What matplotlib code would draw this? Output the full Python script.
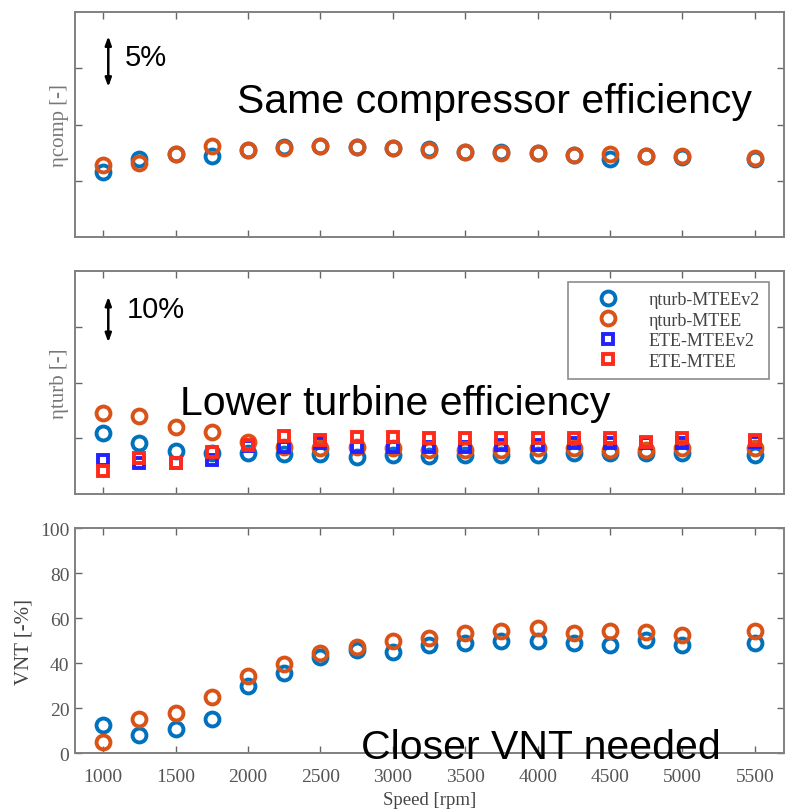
import numpy as np
import matplotlib.pyplot as plt

# engine speed points
speed = [1000, 1250, 1500, 1750, 2000, 2250, 2500, 2750, 3000, 3250,
         3500, 3750, 4000, 4250, 4500, 4750, 5000, 5500]

# compressor efficiency
comp_v2 = [0.658, 0.669, 0.674, 0.672, 0.677, 0.680, 0.681, 0.680, 0.679,
           0.678, 0.676, 0.676, 0.675, 0.673, 0.669, 0.672, 0.671, 0.669]
comp_mtee = [0.664, 0.666, 0.674, 0.681, 0.677, 0.679, 0.681, 0.680, 0.679,
             0.677, 0.676, 0.675, 0.675, 0.673, 0.674, 0.672, 0.672, 0.670]

# turbine efficiency
turb_v2 = [0.409, 0.391, 0.378, 0.373, 0.373, 0.372, 0.372, 0.367, 0.370,
           0.368, 0.370, 0.370, 0.370, 0.373, 0.374, 0.373, 0.373, 0.370]
turb_mtee = [0.445, 0.440, 0.421, 0.411, 0.394, 0.385, 0.382, 0.385, 0.382,
             0.379, 0.379, 0.379, 0.382, 0.382, 0.379, 0.379, 0.382, 0.382]
ete_v2 = [0.361, 0.355, 0.355, 0.361, 0.386, 0.385, 0.392, 0.385, 0.385,
          0.384, 0.385, 0.387, 0.388, 0.391, 0.391, 0.391, 0.392, 0.394]
ete_mtee = [0.342, 0.364, 0.355, 0.376, 0.388, 0.404, 0.397, 0.403, 0.403,
            0.401, 0.401, 0.401, 0.401, 0.401, 0.401, 0.394, 0.400, 0.397]

# VNT position
vnt_v2 = [12.3, 7.9, 10.8, 15.0, 29.7, 35.4, 42.5, 45.8, 44.7, 48.0,
          48.7, 49.9, 49.9, 48.7, 48.0, 50.2, 48.0, 48.7]
vnt_mtee = [4.9, 15.0, 18.0, 25.0, 34.2, 39.5, 44.3, 47.3, 49.8, 51.3,
            53.2, 54.2, 55.4, 53.2, 54.4, 53.9, 52.4, 54.2]

xticks = [1000, 1500, 2000, 2500, 3000, 3500, 4000, 4500, 5000, 5500]

blue = '#0072BD'
orange = '#D95319'
serif = ['Liberation Serif', 'DejaVu Serif']
sans = ['Liberation Sans', 'DejaVu Sans']
grey = '#555555'

fig = plt.figure(figsize=(7.85, 8.12), dpi=100)
ax1 = fig.add_axes([0.0955, 0.7069, 0.903, 0.277])
ax2 = fig.add_axes([0.0955, 0.3904, 0.903, 0.2746])
ax3 = fig.add_axes([0.0955, 0.0714, 0.903, 0.277])

circ = dict(linestyle='none', marker='o', markersize=10, markerfacecolor='none',
            markeredgewidth=2.8)
sq = dict(linestyle='none', marker='s', markersize=6.5, markerfacecolor='none',
          markeredgewidth=2.8)

ax1.plot(speed, comp_v2, color=blue, **circ)
ax1.plot(speed, comp_mtee, color=orange, **circ)
ax1.set_ylim(0.6, 0.8)
ax1.set_yticks([0.65, 0.70, 0.75])

ax2.plot(speed, turb_v2, color=blue, label='ηturb-MTEEv2', **circ)
ax2.plot(speed, turb_mtee, color=orange, label='ηturb-MTEE', **circ)
ax2.plot(speed, ete_v2, color='#2222FF', label='ETE-MTEEv2', **sq)
ax2.plot(speed, ete_mtee, color='#FF2A1A', label='ETE-MTEE', **sq)
ax2.set_ylim(0.3, 0.7)
ax2.set_yticks([0.4, 0.5, 0.6])

ax3.plot(speed, vnt_v2, color=blue, **circ)
ax3.plot(speed, vnt_mtee, color=orange, **circ)
ax3.set_ylim(0, 100)
ax3.set_yticks([0, 20, 40, 60, 80, 100])

for ax in (ax1, ax2, ax3):
    ax.set_xlim(805, 5700)
    ax.set_xticks(xticks)
    ax.tick_params(direction='in', top=True, right=True, length=5, width=1,
                   colors='#666666', labelcolor=grey, labelsize=14)
    ax.tick_params(axis='x', pad=10.5)
    ax.tick_params(axis='y', pad=4)
    for s in ax.spines.values():
        s.set_color('#808080')
        s.set_linewidth(1.4)
    for lab in ax.get_xticklabels() + ax.get_yticklabels():
        lab.set_family(serif)

for ax in (ax1, ax2):
    ax.set_xticklabels([])
    ax.set_yticklabels([])

ax1.set_ylabel('ηcomp [-]', family=serif, fontsize=15, color='#777777')
ax1.yaxis.set_label_coords(-0.008, 0.5)
ax2.set_ylabel('ηturb [-]', family=serif, fontsize=15, color='#777777')
ax2.yaxis.set_label_coords(-0.008, 0.5)
ax3.set_ylabel('VNT [-%]', family=serif, fontsize=15, color='#444444')
ax3.yaxis.set_label_coords(-0.059, 0.5)
ax3.set_xlabel('Speed [rpm]', family=serif, fontsize=13.5, color='#444444')
ax3.xaxis.set_label_coords(0.5, -0.168)

leg = ax2.legend(loc='upper right', bbox_to_anchor=(0.979, 0.951), prop={'family': serif, 'size': 13},
                 fancybox=False, edgecolor='#707070', labelspacing=0.2, handletextpad=0.55,
                 handlelength=3.4, borderpad=0.5, borderaxespad=0.0)
leg.get_frame().set_linewidth(1.2)
for t in leg.get_texts():
    t.set_color('#444444')

# annotations
arrow = dict(arrowstyle='<|-|>,head_length=0.5,head_width=0.18', color='black', lw=1.8,
             shrinkA=0, shrinkB=0)
ax1.text(0.228, 0.556, 'Same compressor efficiency', transform=ax1.transAxes,
         family=sans, fontsize=29.5, va='baseline')
ax1.annotate('', xy=(0.047, 0.667), xytext=(0.047, 0.893), xycoords='axes fraction',
             arrowprops=arrow)
ax1.text(0.0705, 0.802, '5%', transform=ax1.transAxes, family=sans, fontsize=21, va='center')

ax2.text(0.148, 0.359, 'Lower turbine efficiency', transform=ax2.transAxes,
         family=sans, fontsize=29.5, va='baseline')
ax2.annotate('', xy=(0.047, 0.68), xytext=(0.047, 0.885), xycoords='axes fraction',
             arrowprops=arrow)
ax2.text(0.073, 0.83, '10%', transform=ax2.transAxes, family=sans, fontsize=21, va='center')

ax3.text(0.404, -0.022, 'Closer VNT needed', transform=ax3.transAxes,
         family=sans, fontsize=29.5, va='baseline')

fig.savefig('out.png', dpi=100)
